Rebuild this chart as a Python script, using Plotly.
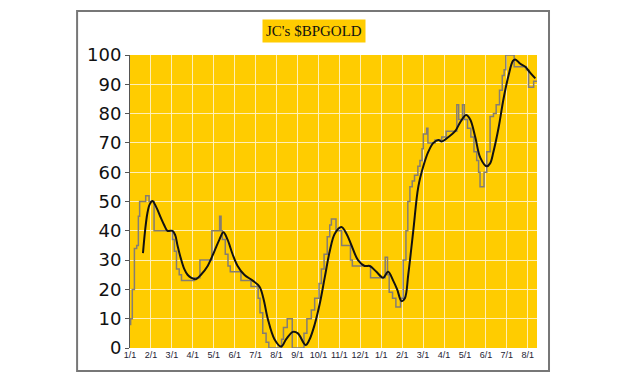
import plotly.graph_objects as go

# Month labels (evenly spaced monthly ticks, index 0 = first 1/1)
tick_labels = ["1/1", "2/1", "3/1", "4/1", "5/1", "6/1", "7/1", "8/1", "9/1", "10/1",
               "11/1", "12/1", "1/1", "2/1", "3/1", "4/1", "5/1", "6/1", "7/1", "8/1"]
tick_pos = list(range(len(tick_labels)))

# $BPGOLD bullish percent (step line): position in months, value
bp_month = [0.00, 0.03, 0.11, 0.21, 0.32, 0.40, 0.46, 0.75, 0.91, 1.15,
            2.03, 2.12, 2.22, 2.35, 2.46, 3.07, 3.34, 3.91, 4.28, 4.35,
            4.41, 4.55, 4.68, 4.79, 5.30, 5.78, 6.12, 6.21, 6.34, 6.50,
            6.63, 7.24, 7.33, 7.51, 7.75, 8.31, 8.45, 8.66, 8.82, 9.03,
            9.14, 9.27, 9.42, 9.54, 9.62, 9.84, 10.11, 10.53, 10.62, 11.49,
            12.19, 12.30, 12.38, 12.54, 12.70, 12.92, 13.05, 13.18, 13.27, 13.37,
            13.48, 13.59, 13.75, 13.85, 13.95, 14.01, 14.17, 14.23, 14.57, 14.89,
            15.10, 15.61, 15.70, 15.88, 15.97, 16.12, 16.28, 16.43, 16.56, 16.65,
            16.72, 16.91, 17.04, 17.20, 17.36, 17.49, 17.65, 17.78, 17.87, 17.95,
            18.35, 18.93, 19.04, 19.28, 19.44]
bp_value = [8, 10, 20, 34, 35, 45, 50, 52, 50, 40,
            37, 33, 27, 25, 23, 24, 30, 40, 45, 40,
            37, 32, 28, 26, 23, 21, 17, 12, 5, 2,
            0, 3, 7, 10, 0, 5, 10, 13, 17, 22,
            27, 32, 38, 42, 44, 40, 35, 30, 28, 24,
            31, 25, 19, 17, 14, 17, 30, 40, 50, 55,
            57, 59, 62, 64, 68, 73, 75, 70, 71, 72,
            74, 83, 78, 83, 78, 75, 72, 67, 64, 60,
            55, 60, 67, 79, 80, 83, 88, 93, 95, 100,
            96, 95, 89, 91, 91]

# Moving average (smooth black line)
ma_month = [0.62, 0.72, 0.83, 0.94, 1.07, 1.26, 1.47, 1.63, 1.79, 2.03,
            2.16, 2.27, 2.43, 2.59, 2.75, 2.91, 3.15, 3.39, 3.71, 4.03,
            4.27, 4.46, 4.66, 4.90, 5.14, 5.46, 5.86, 6.18, 6.37, 6.58,
            6.90, 7.22, 7.46, 7.78, 8.02, 8.39, 8.58, 8.82, 9.06, 9.30,
            9.54, 9.78, 10.10, 10.34, 10.58, 10.89, 11.21, 11.45, 11.77, 12.09,
            12.33, 12.57, 12.76, 12.97, 13.13, 13.29, 13.53, 13.77, 14.01, 14.25,
            14.49, 14.73, 14.89, 15.21, 15.53, 15.77, 16.05, 16.25, 16.49, 16.73,
            17.04, 17.20, 17.36, 17.60, 17.84, 18.08, 18.29, 18.40, 18.64, 18.88,
            19.11, 19.36]
ma_value = [32.4, 40, 46, 49, 50.2, 48, 44.5, 42, 40, 40,
            38.5, 35, 30.5, 27, 25, 24, 23.5, 25, 28, 33,
            37, 39.5, 37, 32, 28, 25, 23, 21, 17, 10,
            3, 0.5, 3, 5.5, 5, 1, 3, 8, 15, 24,
            33, 39, 41.3, 39, 35, 30, 28, 28, 26, 24,
            26, 23, 20, 16, 17, 25, 40, 55, 62, 67,
            70, 71, 70.5, 72, 74, 77, 79.5, 78, 72, 65,
            62, 63, 67, 75, 85, 93, 98, 98.5, 97, 96,
            94, 92]

title_text = "JC's $BPGOLD"

fig = go.Figure()
fig.add_trace(go.Scatter(x=bp_month, y=bp_value, mode="lines", line_shape="hv",
                         line=dict(color="#857d72", width=1.5), showlegend=False,
                         hoverinfo="skip"))
fig.add_trace(go.Scatter(x=ma_month, y=ma_value, mode="lines", line_shape="spline",
                         line=dict(color="#111111", width=2), showlegend=False,
                         hoverinfo="skip"))

fig.update_layout(
    width=630, height=378,
    margin=dict(l=130, r=93, t=55, b=30),
    paper_bgcolor="white",
    plot_bgcolor="#FFCC00",
    showlegend=False,
    xaxis=dict(range=[0, 19.44], tickvals=tick_pos, ticktext=tick_labels,
               showgrid=True, gridcolor="rgba(255,240,190,0.95)", gridwidth=1.3,
               zeroline=False, showline=False, ticks="",
               tickfont=dict(family="Liberation Sans, Arial", size=9, color="#223"),
               fixedrange=True),
    yaxis=dict(range=[0, 100], tickvals=list(range(0, 101, 10)),
               showgrid=True, gridcolor="rgba(255,240,190,0.95)", gridwidth=1.3,
               zeroline=False, showline=True, linecolor="#555", linewidth=1,
               ticks="outside", ticklen=4, tickcolor="#555",
               tickfont=dict(family="DejaVu Sans, Arial", size=18, color="#111"),
               fixedrange=True),
    annotations=[dict(text=title_text, xref="paper", yref="paper",
                      x=0.452, y=1.083, xanchor="center", yanchor="middle",
                      showarrow=False, bgcolor="#FFCC00", borderpad=3,
                      font=dict(family="Liberation Serif, Times New Roman", size=15,
                                color="#111"))],
    shapes=[dict(type="rect", xref="paper", yref="paper",
                 x0=-0.130, x1=1.0295, y0=-0.0785, y1=1.150,
                 line=dict(color="#777", width=2), fillcolor="rgba(0,0,0,0)",
                 layer="below")],
)

fig.write_html("out.html", config={"displayModeBar": False},
               post_script="document.body.style.margin='0';document.body.style.overflow='hidden';")
